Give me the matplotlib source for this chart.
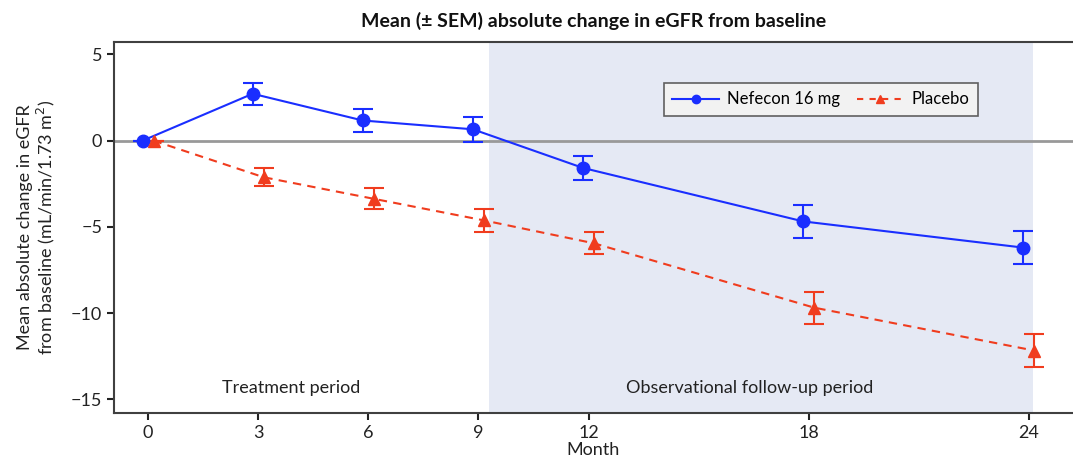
import numpy as np
import matplotlib
matplotlib.use("Agg")
import matplotlib.pyplot as plt
from matplotlib.lines import Line2D

plt.rcParams['font.family'] = ['Lato', 'DejaVu Sans']

# Data
months = np.array([0, 3, 6, 9, 12, 18, 24])
nefecon_mean = np.array([0, 2.72, 1.17, 0.66, -1.58, -4.68, -6.2])
nefecon_sem = np.array([0, 0.65, 0.66, 0.74, 0.71, 0.96, 0.96])
placebo_mean = np.array([0, -2.12, -3.37, -4.62, -5.95, -9.68, -12.17])
placebo_sem = np.array([0, 0.53, 0.6, 0.65, 0.64, 0.93, 0.96])

blue = '#1a2eff'
red = '#f03c1e'
dark = '#404040'

fig = plt.figure(figsize=(10.73, 4.72), dpi=100)
ax = fig.add_axes([0.1062, 0.1256, 0.8938, 0.7854])

# follow-up shading
ax.axvspan(9.3, 24.1, color='#e5e9f4', lw=0, zorder=0)
ax.axhline(0, color='#999999', lw=2, zorder=1)

ax.errorbar(months - 0.15, nefecon_mean, yerr=nefecon_sem, color=blue, marker='o',
            markersize=9, lw=1.5, elinewidth=1.5, capsize=7, capthick=1.5, zorder=3)
ax.errorbar(months + 0.15, placebo_mean, yerr=placebo_sem, color=red, marker='^',
            markersize=8, lw=1.5, ls='--', dashes=(4, 3), elinewidth=1.5, capsize=7,
            capthick=1.5, zorder=3)

ax.set_xlim(-0.93, 25.2)
ax.set_ylim(-15.77, 5.72)
ax.set_xticks(months)
ax.set_yticks([5, 0, -5, -10, -15])
ax.tick_params(colors='#222222', labelsize=13, length=5, width=1.5, direction='out')
for s in ['left', 'bottom', 'top']:
    ax.spines[s].set_color(dark)
    ax.spines[s].set_linewidth(1.5)
ax.spines['right'].set_visible(False)

ax.text(3.9, -14.35, 'Treatment period', ha='center', va='center', fontsize=13, color='#222222')
ax.text(16.4, -14.35, 'Observational follow-up period', ha='center', va='center',
        fontsize=13, color='#222222')

ax.set_xlabel('Month', fontsize=13, color='#222222', labelpad=1)
ax.set_ylabel('Mean absolute change in eGFR\nfrom baseline (mL/min/1.73 m$^2$)',
              fontsize=13, color='#222222', labelpad=10, linespacing=1.1)
ax.set_title('Mean (± SEM) absolute change in eGFR from baseline', fontsize=14,
             fontweight='bold', color='#111111', pad=11)

handles = [Line2D([], [], color=blue, marker='o', markersize=6, lw=1.5),
           Line2D([], [], color=red, marker='^', markersize=6, lw=1.5, ls='--', dashes=(3, 3))]
leg = ax.legend(handles, ['Nefecon 16 mg', 'Placebo'], loc='upper left',
                bbox_to_anchor=(0.5735, 0.889), borderaxespad=0,
                ncol=2, fontsize=12, frameon=True, fancybox=False, columnspacing=1.0,
                handlelength=2.8, handletextpad=0.5, borderpad=0.5)
leg.get_frame().set_facecolor('#f2f2f2')
leg.get_frame().set_edgecolor('#606060')
leg.get_frame().set_linewidth(1.2)
leg.get_frame().set_alpha(1)

fig.savefig('out.png', dpi=100)
